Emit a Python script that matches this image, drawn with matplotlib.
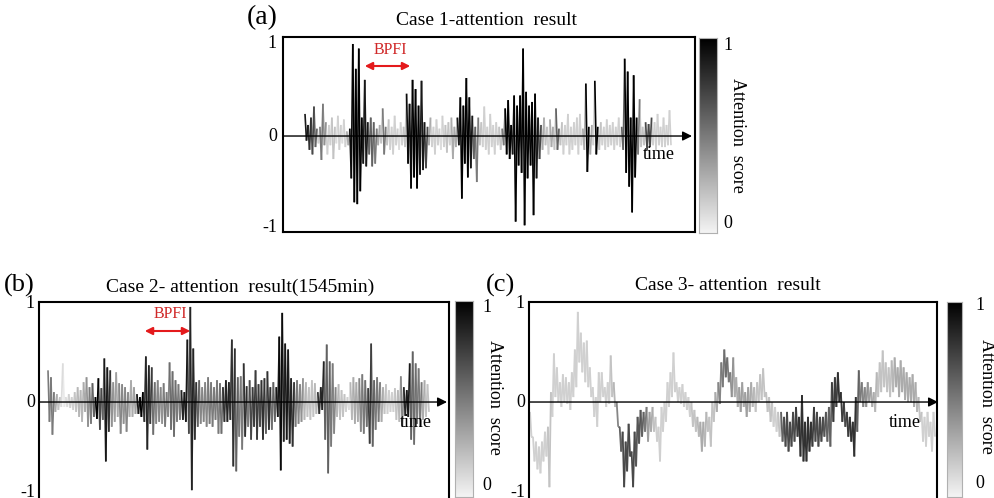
import numpy as np
import matplotlib
matplotlib.use("Agg")
import matplotlib.pyplot as plt
from matplotlib.collections import LineCollection
from matplotlib.colors import LinearSegmentedColormap, Normalize

# ---------------- data ----------------
# Each column: upper excursion, lower excursion, attention score
a_hi = [.24, .12, .2, .32, .08, .1, .35, .15, .12, .2, .1, .22, .12, .18, .05, .08,
        1.0, .73, .95, .2, .61, .15, .2, .15, .08, .12, .3, .1, .18, .1, .22, .08,
        .15, .1, .46, .35, .61, .51, .33, .6, .15, .1, .2, .1, .18, .08, .22, .12,
        .15, .2, .1, .2, .42, .33, .63, .42, .22, .1, .2, .15, .32, .1, .24, .12,
        .15, .1, .08, .3, .39, .12, .44, .33, .44, .95, .48, .33, .37, .46, .2, .12,
        .2, .1, .18, .1, .3, .08, .15, .12, .24, .1, .15, .2, .24, .08, .57, .1,
        .12, .6, .1, .15, .1, .18, .12, .15, .1, .2, .1, .84, .7, .2, .66, .2,
        .4, .1, .15, .13, .2, .15, .24, .1, .2, .12, .28]
a_lo = [-.05, -.15, -.2, -.12, -.08, -.26, -.1, -.2, -.1, -.25, -.08, -.15, -.08, -.12, -.1, -.46,
        -.72, -.74, -.6, -.3, -.33, -.2, -.33, -.3, -.1, -.08, -.2, -.1, -.15, -.2, -.1, -.15,
        -.1, -.12, -.3, -.57, -.45, -.57, -.42, -.37, -.35, -.1, -.12, -.2, -.1, -.15, -.12, -.18,
        -.1, -.25, -.12, -.1, -.68, -.3, -.45, -.35, -.25, -.5, -.1, -.12, -.15, -.2, -.12, -.2,
        -.1, -.15, -.1, -.2, -.25, -.2, -.93, -.32, -.4, -.97, -.46, -.32, -.86, -.46, -.25, -.15,
        -.1, -.2, -.12, -.15, -.15, -.1, -.2, -.1, -.2, -.15, -.1, -.2, -.1, -.15, -.39, -.2,
        -.1, -.2, -.15, -.1, -.15, -.12, -.1, -.15, -.1, -.12, -.15, -.4, -.55, -.83, -.45, -.2,
        -.12, -.1, -.15, -.12, -.1, -.15, -.1, -.12, -.12, -.1, -.1]
a_att = [.9, .8, .7, .6, .15, .5, .4, .15, .15, .2, .1, .15, .1, .15, .3, .95,
         1, 1, 1, .9, .9, .6, .6, .5, .3, .2, .5, .2, .15, .15, .15, .1,
         .15, .2, .95, .95, 1, 1, .9, .9, .7, .3, .15, .15, .15, .1, .15, .2,
         .15, .3, .3, .9, 1, 1, 1, .9, .6, .5, .2, .15, .15, .15, .15, .15,
         .15, .2, .5, 1, 1, .9, 1, 1, 1, 1, 1, 1, 1, .9, .7, .3,
         .2, .15, .3, .2, .6, .2, .15, .15, .15, .15, .15, .15, .15, .3, 1, .3,
         .15, 1, .2, .15, .15, .15, .15, .15, .15, .15, .6, 1, 1, 1, 1, .5,
         .2, .2, .7, .7, .15, .15, .15, .15, .15, .15, .15]

b_hi = [.32, .25, .1, .08, .05, .39, .05, .08, .05, .1, .15, .12, .2, .25, .15, .19,
        .05, .24, .14, .44, .35, .32, .2, .3, .19, .18, .15, .1, .22, .15, .08, .05,
        .1, .46, .37, .35, .2, .22, .15, .19, .1, .4, .31, .22, .18, .12, .1, .63,
        .96, .54, .2, .22, .15, .2, .25, .2, .15, .22, .19, .15, .22, .2, .63, .54,
        .25, .26, .39, .16, .22, .15, .32, .18, .22, .24, .31, .15, .2, .15, .66, .9,
        .59, .53, .24, .2, .22, .18, .24, .2, .15, .22, .19, .1, .15, .41, .58, .41,
        .39, .15, .18, .12, .08, .05, .2, .25, .2, .24, .28, .22, .14, .59, .22, .25,
        .2, .15, .18, .12, .1, .14, .12, .26, .15, .12, .39, .51, .39, .34, .2, .22, .18]
b_lo = [-.2, -.33, -.1, -.08, -.05, -.05, -.05, -.06, -.08, -.1, -.15, -.2, -.1, -.25, -.22, -.15,
        -.17, -.28, -.18, -.6, -.3, -.25, -.2, -.15, -.32, -.22, -.3, -.15, -.15, -.12, -.12, -.15,
        -.2, -.48, -.22, -.33, -.22, -.2, -.22, -.25, -.15, -.28, -.35, -.2, -.18, -.18, -.2, -.32,
        -.89, -.38, -.25, -.22, -.2, -.25, -.22, -.25, -.18, -.32, -.32, -.2, -.2, -.18, -.65, -.7,
        -.35, -.48, -.35, -.25, -.38, -.25, -.38, -.25, -.38, -.32, -.28, -.28, -.2, -.15, -.69, -.4,
        -.38, -.42, -.45, -.25, -.22, -.2, -.18, -.15, -.18, -.15, -.12, -.12, -.08, -.38, -.72, -.45,
        -.32, -.15, -.18, -.15, -.1, -.08, -.18, -.22, -.2, -.3, -.32, -.25, -.42, -.45, -.28, -.2,
        -.2, -.12, -.12, -.1, -.1, -.18, -.2, -.25, -.14, -.15, -.38, -.43, -.22, -.25, -.18, -.15, -.1]
b_att = [.5, .5, .3, .2, .1, .05, .1, .15, .15, .2, .25, .25, .3, .4, .5, .6,
         1, .7, .6, .9, .8, .4, .35, .3, .45, .4, .45, .3, .3, .35, .9, 1,
         .8, .85, .75, .55, .45, .45, .4, .5, .45, .55, .55, .5, .5, .85, .9, .7,
         .85, .8, .6, .45, .45, .45, .5, .5, .5, .5, .55, .8, .85, .8, .8, .6,
         .5, .5, .8, .5, .7, .75, .75, .7, .8, .6, .8, .55, .6, .9, .95, .85,
         .9, .85, .8, .5, .45, .4, .25, .2, .2, .2, .25, .8, .85, .6, .6, .5,
         .45, .25, .2, .2, .15, .1, .25, .3, .3, .45, .5, .55, .75, .6, .5, .5,
         .3, .2, .15, .15, .15, .2, .25, .45, .85, .9, .6, .55, .5, .5, .3, .2, .2]

c_hi = [-.1, -.35, -.4, -.45, -.4, -.3, -.25, .1, .49, .35, .2, .28, .25, .2, .3, .53,
        .91, .7, .6, .62, .35, .15, .05, .3, .3, .15, .2, .47, .2, .0, -.25, -.3,
        -.4, -.22, -.5, -.3, -.15, -.08, -.1, -.05, -.1, -.05, -.15, -.25, -.05, .0, .2, .3,
        .5, .2, .15, .18, .1, .05, .0, -.08, -.15, -.2, -.2, -.1, -.15, .0, .1, .2,
        .4, .53, .45, .3, .45, .25, .15, .2, .1, .15, .2, .15, .2, .28, .34, .1,
        .05, .0, -.05, -.1, -.1, -.15, -.1, -.2, -.1, -.05, -.15, .07, -.2, -.15, -.2, -.05,
        -.1, -.15, -.15, -.1, -.05, .2, .25, .3, .1, .0, -.1, -.15, -.2, .05, .32, .2,
        .15, .2, .15, .1, .3, .4, .52, .4, .35, .42, .45, .35, .42, .35, .3, .25,
        .28, .2, .05, -.1, -.15, -.1, -.2, -.1]
c_lo = [-.35, -.6, -.68, -.72, -.6, -.55, -.86, -.15, .05, .0, -.05, .0, -.02, -.08, .05, .15,
        .4, .3, .2, .15, .05, -.15, -.25, .0, .05, -.05, -.02, .05, -.05, -.25, -.5, -.86,
        -.7, -.55, -.86, -.65, -.42, -.35, -.3, -.4, -.3, -.3, -.4, -.6, -.3, -.2, -.05, .05,
        .1, .0, -.02, -.05, -.08, -.15, -.25, -.3, -.35, -.5, -.45, -.3, -.45, -.2, -.1, -.02,
        .15, .25, .2, .05, .05, -.05, -.1, -.05, -.15, -.1, -.05, -.1, .0, .02, .05, -.1,
        -.2, -.25, -.3, -.35, -.4, -.45, -.5, -.45, -.4, -.35, -.55, -.6, -.6, -.5, -.45, -.4,
        -.45, -.4, -.35, -.4, -.45, -.2, -.05, .0, -.2, -.25, -.35, -.4, -.55, -.3, .0, -.05,
        -.05, .0, -.05, -.1, .05, .1, .15, .1, .05, .1, .15, .05, .1, .02, .0, .0,
        -.05, -.1, -.2, -.4, -.45, -.35, -.5, -.35]
c_att = [.15, .15, .15, .15, .15, .15, .2, .15, .15, .15, .15, .15, .15, .15, .15, .15,
         .15, .15, .15, .15, .15, .15, .15, .15, .15, .15, .15, .2, .25, .45, .6, .7,
         .7, .7, .7, .65, .65, .6, .5, .35, .3, .2, .15, .15, .15, .15, .15, .15,
         .15, .15, .15, .15, .15, .15, .2, .2, .25, .3, .25, .2, .2, .2, .3, .45,
         .5, .55, .5, .4, .3, .3, .35, .3, .35, .3, .25, .2, .2, .2, .2, .2,
         .2, .15, .15, .2, .6, .7, .7, .7, .7, .75, .8, .8, .8, .8, .75, .7,
         .7, .7, .65, .6, .6, .75, .75, .8, .75, .7, .75, .8, .8, .6, .5, .45,
         .4, .35, .3, .25, .2, .2, .2, .2, .2, .25, .3, .3, .3, .3, .3, .3,
         .3, .25, .2, .15, .15, .15, .15, .15]

titles = ["Case 1-attention  result", "Case 2- attention  result(1545min)",
          "Case 3- attention  result"]
panel_tags = ["(a)", "(b)", "(c)"]

# ---------------- figure ----------------
W, H = 995, 498
plt.rcParams['font.family'] = ['Liberation Serif', 'DejaVu Serif']
fig = plt.figure(figsize=(W / 100, H / 100), dpi=100)
cmap = LinearSegmentedColormap.from_list('att', ['#f4f4f4', '#000000'])
norm = Normalize(0, 1)


def px_axes(l, t, r, b):
    return fig.add_axes([l / W, 1 - b / H, (r - l) / W, (b - t) / H])


def T(x, y, s, **kw):
    fig.text(x / W, 1 - y / H, s, **kw)


def panel(hi, lo, att, box, sig, ylim, tip, lab_x, lab_ys, lw=1.2):
    l, t, r, b = box
    ax = px_axes(l, t, r, b)
    n = len(hi)
    y = np.empty(2 * n)
    y[0::2] = hi
    y[1::2] = lo
    x = np.arange(2 * n, dtype=float)
    seg_att = np.repeat(np.asarray(att, float), 2)[:-1]
    pts = np.column_stack([x, y]).reshape(-1, 1, 2)
    segs = np.concatenate([pts[:-1], pts[1:]], axis=1)
    order = np.argsort(seg_att, kind='stable')  # darker strokes on top
    lc = LineCollection(segs[order], colors=cmap(norm(seg_att[order])),
                        linewidths=lw, zorder=2, capstyle='butt')
    ax.add_collection(lc)
    s0, s1 = sig
    scale = (2 * n - 1) / (s1 - s0)
    ax.set_xlim(-(s0 - l) * scale, (2 * n - 1) + (r - s1) * scale)
    ax.set_ylim(*ylim)
    ax.set_xticks([])
    ax.set_yticks([])
    for sp in ax.spines.values():
        sp.set_linewidth(1.5)
        sp.set_color('black')
    tipf = (tip - l) / (r - l)
    ax.annotate('', xy=(tipf, 0), xytext=(0, 0),
                xycoords=('axes fraction', 'data'),
                textcoords=('axes fraction', 'data'),
                arrowprops=dict(arrowstyle='-|>', color='black', lw=1.0,
                                mutation_scale=14, shrinkA=0, shrinkB=0),
                zorder=4, annotation_clip=False)
    for lab, yy in zip(['1', '0', '-1'], lab_ys):
        T(lab_x, yy, lab, ha='right', va='center', fontsize=13)
    return ax


def colorbar(box, one_xy, zero_xy, lab_xy):
    l, t, r, b = box
    cax = px_axes(l, t, r, b)
    grad = np.linspace(1, 0, 256).reshape(-1, 1)
    cax.imshow(grad, cmap=cmap, norm=norm, aspect='auto',
               extent=[0, 1, 0, 1])
    cax.set_xticks([])
    cax.set_yticks([])
    for sp in cax.spines.values():
        sp.set_linewidth(0.8)
        sp.set_color('#b0b0b0')
    T(*one_xy, '1', ha='center', va='center', fontsize=13)
    T(*zero_xy, '0', ha='center', va='center', fontsize=13)
    T(*lab_xy, 'Attention  score', ha='center', va='center', fontsize=13,
      rotation=270)


# (a)
ax_a = panel(a_hi, a_lo, a_att, (283, 37, 695, 232), (305, 671),
             (-1.043, 1.076), 692, 277, (44, 136, 228))
colorbar((699, 38, 717, 233), (728, 45), (728, 223), (738, 135))
T(486, 20, titles[0], ha='center', va='center', fontsize=14)
T(262, 18, panel_tags[0], ha='center', va='center', fontsize=20)
T(659, 154, 'time', ha='center', va='center', fontsize=13)
T(390, 50, 'BPFI', ha='center', va='center', fontsize=11.5, color='#d02828')
fig.add_artist(matplotlib.patches.FancyArrowPatch(
    (362 / W, 1 - 66 / H), (413 / W, 1 - 66 / H), transform=fig.transFigure,
    arrowstyle='<|-|>', mutation_scale=11, color='#e41a1c', lw=1.5))

# (b)
ax_b = panel(b_hi, b_lo, b_att, (39, 302, 449, 506), (48, 429),
             (-1.05, 1.01), 447, 35, (303, 402, 492))
colorbar((455, 301, 473, 497), (487, 307), (487, 485), (495, 397))
T(240, 287, titles[1], ha='center', va='center', fontsize=14)
T(19, 285, panel_tags[1], ha='center', va='center', fontsize=19)
T(416, 422, 'time', ha='center', va='center', fontsize=13)
T(170, 314, 'BPFI', ha='center', va='center', fontsize=11.5, color='#d02828')
fig.add_artist(matplotlib.patches.FancyArrowPatch(
    (142 / W, 1 - 331 / H), (193 / W, 1 - 331 / H), transform=fig.transFigure,
    arrowstyle='<|-|>', mutation_scale=11, color='#e41a1c', lw=1.5))

# (c)
ax_c = panel(c_hi, c_lo, c_att, (529, 302, 937, 506), (530, 935),
             (-1.05, 1.01), 938, 525, (303, 402, 492), lw=1.3)
colorbar((947, 302, 962, 497), (980, 305), (980, 483), (987, 396))
T(728, 285, titles[2], ha='center', va='center', fontsize=14)
T(501, 285, panel_tags[2], ha='center', va='center', fontsize=19)
T(905, 422, 'time', ha='center', va='center', fontsize=13)

fig.savefig('out.png', dpi=100)
